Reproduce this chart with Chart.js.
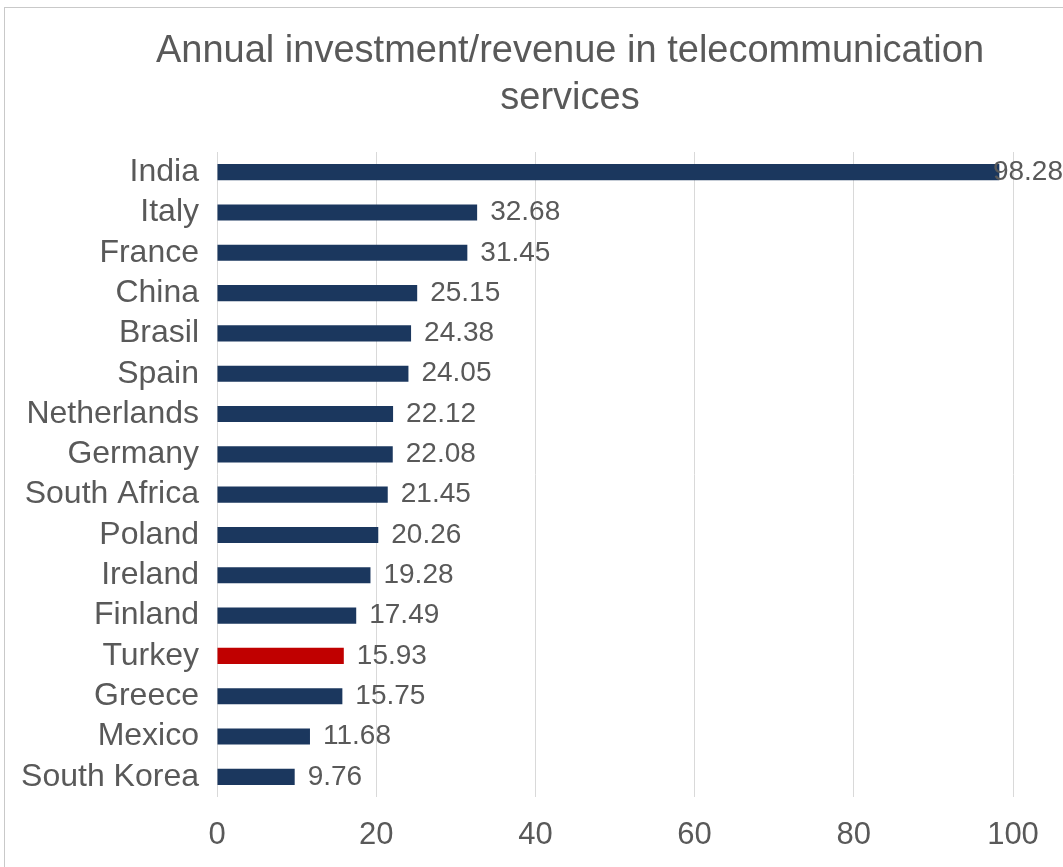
<!DOCTYPE html>
<html>
<head>
<meta charset="utf-8">
<script src="https://cdn.jsdelivr.net/npm/chart.js"></script>
<style>
    html, body { margin: 0; padding: 0; background: #fff; overflow: hidden; }
    #wrap { position: relative; width: 1063px; height: 867px; }
    #frame { position: absolute; left: 4px; top: 7px; width: 1100px; height: 900px; border: 1px solid #c9c9c9; box-sizing: border-box; }
    #telecomChart { position: absolute; left: 0; top: 0; }
</style>
</head>
<body>
<div id="wrap">
    <div id="frame"></div>
    <canvas id="telecomChart" width="1063" height="867"></canvas>
</div>
<script>
// Países e valores (investimento/receita anual)
const countries = ['India', 'Italy', 'France', 'China', 'Brasil', 'Spain', 'Netherlands', 'Germany',
    'South Africa', 'Poland', 'Ireland', 'Finland', 'Turkey', 'Greece', 'Mexico', 'South Korea'];
const ratios = [98.28, 32.68, 31.45, 25.15, 24.38, 24.05, 22.12, 22.08,
    21.45, 20.26, 19.28, 17.49, 15.93, 15.75, 11.68, 9.76];
const highlight = 'Turkey';
const xTicks = [0, 20, 40, 60, 80, 100];
const titleLines = ['Annual investment/revenue in telecommunication', 'services'];

const FONT = '"Liberation Sans", Arial, sans-serif';
const GRAY = '#595959';

// Título centrado no quadro inteiro (o quadro passa da borda direita)
const frameTitle = {
    id: 'frameTitle',
    afterDraw(chart) {
        const ctx = chart.ctx;
        ctx.save();
        ctx.font = '38px ' + FONT;
        ctx.fillStyle = GRAY;
        ctx.textAlign = 'center';
        ctx.textBaseline = 'middle';
        titleLines.forEach((line, i) => ctx.fillText(line, 570, 52 + i * 47));
        ctx.restore();
    }
};

// Rótulos de valor no fim de cada barra
const valueLabels = {
    id: 'valueLabels',
    afterDatasetsDraw(chart) {
        const ctx = chart.ctx;
        const meta = chart.getDatasetMeta(0);
        ctx.save();
        ctx.font = '28px ' + FONT;
        ctx.fillStyle = GRAY;
        ctx.textAlign = 'left';
        ctx.textBaseline = 'middle';
        meta.data.forEach((bar, i) => {
            const txt = ratios[i].toFixed(2);
            const w = ctx.measureText(txt).width;
            const x = Math.min(bar.x + 13, chart.width - w);
            ctx.fillText(txt, x, bar.y);
        });
        ctx.restore();
    }
};

const telecomCtx = document.getElementById('telecomChart').getContext('2d');
new Chart(telecomCtx, {
    type: 'bar',
    data: {
        labels: countries,
        datasets: [{
            data: ratios,
            backgroundColor: countries.map(c => c === highlight ? '#c00000' : '#1b375e'),
            categoryPercentage: 1,
            barPercentage: 0.4
        }]
    },
    options: {
        indexAxis: 'y',
        responsive: false,
        animation: false,
        devicePixelRatio: 1,
        layout: { padding: { left: 0, right: 50, top: 152, bottom: 0 } },
        plugins: {
            legend: { display: false },
            tooltip: { enabled: false },
            title: { display: false }
        },
        scales: {
            x: {
                min: 0,
                max: 100,
                afterBuildTicks: scale => { scale.ticks = xTicks.map(v => ({ value: v })); },
                afterFit: scale => { scale.height = 70; },
                ticks: { color: GRAY, font: { family: FONT, size: 31 }, padding: 20 },
                grid: { color: '#d9d9d9', drawTicks: false },
                border: { display: false }
            },
            y: {
                afterFit: scale => { scale.width = 217; },
                ticks: { color: GRAY, font: { family: FONT, size: 32 }, padding: 18, autoSkip: false },
                grid: { display: false, drawTicks: false },
                border: { display: false }
            }
        }
    },
    plugins: [valueLabels, frameTitle]
});
</script>
</body>
</html>
